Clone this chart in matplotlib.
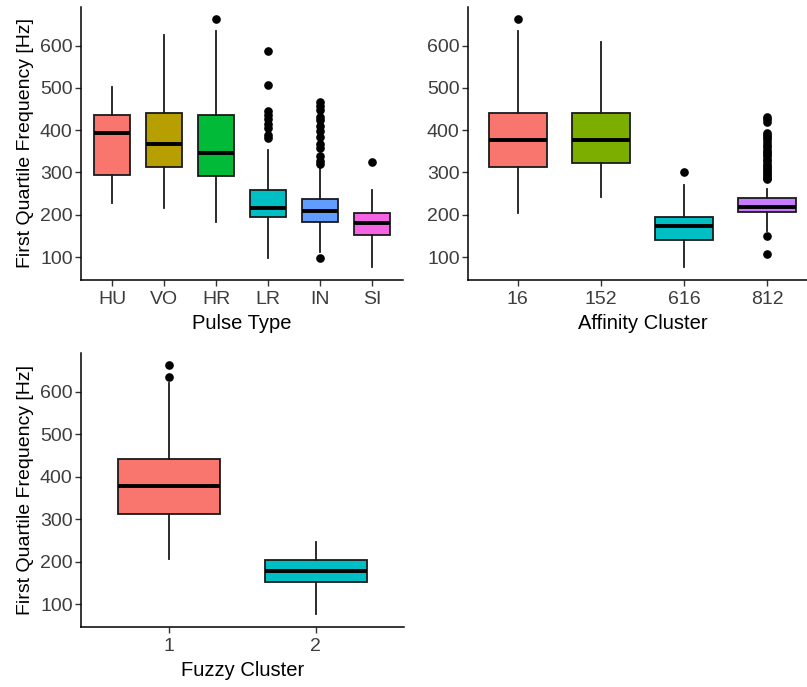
import matplotlib
matplotlib.use("Agg")
import matplotlib.pyplot as plt

plt.rcParams['font.family'] = ['Liberation Sans', 'DejaVu Sans']

# --- pulse type -------------------------------------------------------------
pulse_types = ["HU", "VO", "HR", "LR", "IN", "SI"]
pulse_colors = ["#F8766D", "#B79F00", "#00BA38", "#00BFC4", "#619CFF", "#F564E3"]
pulse_whislo = [227, 216, 184, 98, 112, 77]
pulse_q1 = [295, 313, 292, 195, 184, 152]
pulse_med = [394, 367, 345, 216, 209, 180]
pulse_q3 = [436, 441, 435, 259, 237, 205]
pulse_whishi = [501, 625, 635, 354, 317, 259]
pulse_fliers = [
    [],
    [],
    [662],
    [588, 506, 445, 436, 426, 415, 405, 389, 381],
    [467, 457, 448, 432, 423, 409, 397, 385, 367, 357, 338, 328, 321, 98],
    [324],
]

# --- affinity cluster ---------------------------------------------------------
affinity_labels = ["16", "152", "616", "812"]
affinity_colors = ["#F8766D", "#7CAE00", "#00BFC4", "#C77CFF"]
affinity_whislo = [205, 243, 77, 161]
affinity_q1 = [312, 322, 141, 206]
affinity_med = [377, 377, 174, 218]
affinity_q3 = [441, 441, 195, 239]
affinity_whishi = [635, 608, 270, 262]
affinity_fliers = [
    [662],
    [],
    [302],
    [432, 426, 419, 393, 388, 383, 378, 372, 366, 360, 354, 349, 343, 338,
     332, 326, 321, 316, 311, 306, 301, 296, 292, 288, 284, 151, 108],
]

# --- fuzzy cluster ------------------------------------------------------------
fuzzy_labels = ["1", "2"]
fuzzy_colors = ["#F8766D", "#00BFC4"]
fuzzy_whislo = [205, 76]
fuzzy_q1 = [312, 151]
fuzzy_med = [377, 178]
fuzzy_q3 = [442, 204]
fuzzy_whishi = [621, 247]
fuzzy_fliers = [[662, 635], []]

Y_LIM = (46, 691)
Y_TICKS = [100, 200, 300, 400, 500, 600]
W, H = 807, 687


def box_panel(ax, labels, colors, lo, q1, med, q3, hi, fliers, xlabel, ylabel=None):
    stats = []
    for i, lab in enumerate(labels):
        stats.append(dict(label=lab, whislo=lo[i], q1=q1[i], med=med[i],
                          q3=q3[i], whishi=hi[i], fliers=fliers[i]))
    pos = list(range(1, len(labels) + 1))
    bp = ax.bxp(stats, positions=pos, widths=0.7, patch_artist=True,
                showfliers=True, showcaps=False,
                boxprops=dict(edgecolor="#1a1a1a", linewidth=1.3),
                medianprops=dict(color="black", linewidth=2.8, solid_capstyle="butt"),
                whiskerprops=dict(color="#1a1a1a", linewidth=1.3),
                flierprops=dict(marker="o", markerfacecolor="black",
                                markeredgecolor="black", markersize=5.2))
    for patch, c in zip(bp["boxes"], colors):
        patch.set_facecolor(c)
    ax.set_xlim(0.4, len(labels) + 0.6)
    ax.set_ylim(*Y_LIM)
    ax.set_yticks(Y_TICKS)
    ax.set_xticks(pos)
    ax.set_xticklabels(labels)
    for s in ("top", "right"):
        ax.spines[s].set_visible(False)
    for s in ("left", "bottom"):
        ax.spines[s].set_linewidth(1.1)
        ax.spines[s].set_color("black")
    ax.tick_params(axis="both", labelsize=14, labelcolor="#3d3d3d",
                   color="#333333", length=4, width=1.0, pad=2)
    ax.tick_params(axis="x", pad=4)
    ax.set_xlabel(xlabel, fontsize=14.5, color="black", labelpad=4)
    if ylabel:
        ax.set_ylabel(ylabel, fontsize=14, color="black", labelpad=4)


fig = plt.figure(figsize=(W / 100, H / 100), dpi=100)


def place(left, top, right, bottom):
    return fig.add_axes([left / W, 1 - bottom / H, (right - left) / W, (bottom - top) / H])


ax1 = place(81, 7, 403, 280)
ax2 = place(468, 7, 817, 280)
ax3 = place(81, 353, 404, 627)

ylab = "First Quartile Frequency [Hz]"
box_panel(ax1, pulse_types, pulse_colors, pulse_whislo, pulse_q1, pulse_med,
          pulse_q3, pulse_whishi, pulse_fliers, "Pulse Type", ylab)
box_panel(ax2, affinity_labels, affinity_colors, affinity_whislo, affinity_q1,
          affinity_med, affinity_q3, affinity_whishi, affinity_fliers, "Affinity Cluster")
box_panel(ax3, fuzzy_labels, fuzzy_colors, fuzzy_whislo, fuzzy_q1, fuzzy_med,
          fuzzy_q3, fuzzy_whishi, fuzzy_fliers, "Fuzzy Cluster", ylab)

fig.savefig("out.png", dpi=100, facecolor="white")
